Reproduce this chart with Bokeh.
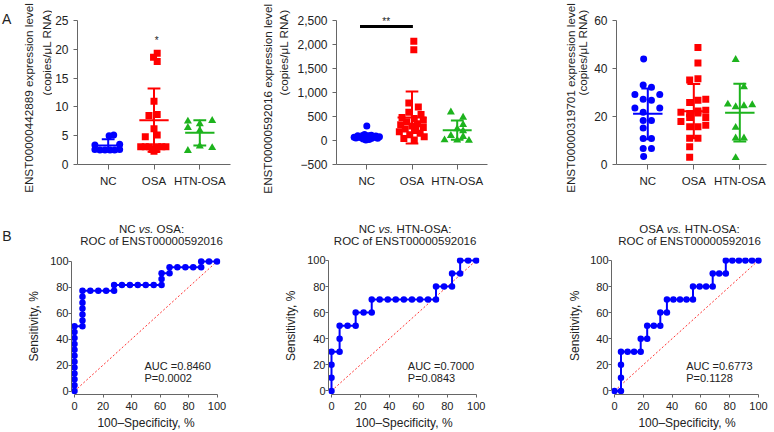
import math
import numpy as np
from bokeh.plotting import figure
from bokeh.layouts import row, column
from bokeh.models import FixedTicker, Label, Range1d
from bokeh.embed import file_html
from bokeh.resources import INLINE

# ---------------- data ----------------
groups = ["NC", "OSA", "HTN-OSA"]

# A1: ENST00000442889
a1_nc = [5.1, 5.0, 3.5, 3.4, 2.6, 2.5, 2.5, 2.5, 2.5, 2.6]
a1_nc_dx = [0.12, 0.02, 0.25, -0.29, -0.29, -0.18, -0.07, 0.04, 0.14, 0.25]
a1_osa = [19.3, 18.6, 17.9, 11.0, 8.7, 8.5, 6.2, 5.1, 4.8, 3.1, 3.1, 3.1, 3.1, 3.1, 3.1, 2.6, 2.6, 2.3]
a1_osa_dx = [0.07, -0.01, 0.07, 0.0, 0.07, -0.11, 0.0, 0.07, -0.19, -0.29, -0.19, -0.1, 0.08, 0.17, 0.26, -0.04, 0.05, 0.0]
a1_htn = [7.6, 7.5, 7.05, 6.4, 5.9, 3.2, 2.9, 2.4]
a1_htn_dx = [0.27, -0.26, 0.0, -0.26, 0.0, 0.0, 0.27, -0.26]
a1_mean = [3.3, 7.7, 5.5]
a1_sd = [1.1, 5.5, 2.2]
a1_ticks = [0, 5, 10, 15, 20, 25]
a1_tick_labels = ["0", "5", "10", "15", "20", "25"]
a1_star = [2.06, 21.6]

# A2: ENST00000592016
a2_nc = [300, 125, 110, 100, 95, 90, 85, 80, 70, 65, 60, 55, 50, 45, 40, 30, 20, 10]
a2_nc_dx = [0.0, -0.05, 0.1, -0.2, 0.2, -0.1, 0.05, 0.28, -0.28, 0.15, -0.15, 0.0, -0.24, 0.24, 0.1, -0.08, 0.05, -0.02]
a2_osa = [2070, 1890, 780, 700, 590, 540, 480, 460, 420, 390, 350, 330, 300, 270, 240, 210, 180, 150, 120, 80, 40, 10]
a2_osa_dx = [0.04, 0.04, -0.07, 0.14, -0.07, 0.2, -0.22, 0.05, 0.25, -0.12, 0.12, -0.25, 0.0, 0.25, -0.15, 0.08, -0.28, 0.18, -0.05, 0.27, -0.18, 0.05]
a2_htn = [590, 480, 330, 240, 200, 100, 80, 10, 5, 0]
a2_htn_dx = [-0.14, 0.13, 0.13, 0.0, 0.13, -0.14, 0.13, -0.28, 0.0, 0.26]
a2_mean = [80, 480, 215]
a2_sd = [70, 540, 200]
a2_ticks = [-500, 0, 500, 1000, 1500, 2000, 2500]
a2_tick_labels = ["\u2212500", "0", "500", "1,000", "1,500", "2,000", "2,500"]
a2_sig = [0.85, 2.02, 2375]          # ** bar: from group, to group, level
a2_sig_text = [1.43, 2480]

# A3: ENST00000319701
a3_nc = [44.0, 33.1, 32.2, 29.2, 29.2, 27.2, 26.8, 23.5, 23.5, 21.8, 18.3, 18.3, 15.2, 10.8, 10.8, 6.7, 6.7, 3.3]
a3_nc_dx = [-0.09, -0.1, 0.08, -0.28, 0.26, -0.1, 0.08, -0.28, 0.26, -0.1, -0.1, 0.08, -0.1, -0.1, 0.08, -0.1, 0.08, -0.09]
a3_osa = [48.8, 42.3, 35.7, 35.2, 27.2, 26.8, 25.8, 22.6, 21.8, 21.5, 21.2, 19.6, 19.6, 17.9, 16.4, 15.7, 15.7, 10.9, 10.9, 7.4, 3.0, 22.3]
a3_osa_dx = [0.09, 0.09, 0.09, -0.09, 0.26, 0.09, -0.09, 0.26, -0.28, 0.09, -0.09, 0.26, -0.09, -0.28, 0.26, -0.09, 0.09, -0.09, 0.09, -0.09, -0.09, 0.09]
a3_htn = [43.7, 32.3, 25.1, 24.0, 24.4, 24.8, 15.4, 11.0, 11.0, 2.8]
a3_htn_dx = [-0.09, 0.09, -0.26, -0.09, 0.09, 0.27, -0.09, -0.09, 0.09, -0.09]
a3_mean = [21.1, 22.2, 21.6]
a3_sd = [10.6, 11.3, 12.0]
a3_ticks = [0, 20, 40, 60]
a3_tick_labels = ["0", "20", "40", "60"]

# ROC curves (100-specificity %, sensitivity %)
b1_x = [0, 0, 0, 0, 0, 0, 0, 0, 0, 0, 0, 0, 5.6, 5.6, 5.6, 5.6, 5.6, 5.6, 5.6, 11.1, 16.7, 22.2, 27.8, 27.8,
        33.3, 38.9, 44.4, 50.0, 55.6, 61.1, 61.1, 61.1, 66.7, 66.7, 72.2, 77.8, 83.3, 88.9, 88.9, 94.4, 100]
b1_y = [0, 4.5, 9.1, 13.6, 18.2, 22.7, 27.3, 31.8, 36.4, 40.9, 45.5, 50.0, 50.0, 54.5, 59.1, 63.6, 68.2, 72.7, 77.3,
        77.3, 77.3, 77.3, 77.3, 81.8, 81.8, 81.8, 81.8, 81.8, 81.8, 81.8, 86.4, 90.9, 90.9, 95.5, 95.5, 95.5, 95.5,
        95.5, 100, 100, 100]
b2_x = [0, 0, 0, 0, 5.6, 5.6, 5.6, 11.1, 16.7, 16.7, 22.2, 27.8, 27.8, 33.3, 38.9, 44.4, 50.0, 55.6, 61.1, 66.7,
        72.2, 72.2, 77.8, 83.3, 83.3, 88.9, 88.9, 94.4, 100]
b2_y = [0, 10, 20, 30, 30, 40, 50, 50, 50, 60, 60, 60, 70, 70, 70, 70, 70, 70, 70, 70, 70, 80, 80, 80, 90, 90, 100,
        100, 100]
b3_x = [0, 4.5, 4.5, 4.5, 4.5, 9.1, 13.6, 18.2, 18.2, 22.7, 22.7, 27.3, 31.8, 31.8, 36.4, 36.4, 40.9, 45.5, 50.0,
        54.5, 54.5, 59.1, 63.6, 68.2, 68.2, 72.7, 77.3, 77.3, 81.8, 86.4, 90.9, 95.5, 100]
b3_y = [0, 0, 10, 20, 30, 30, 30, 30, 40, 40, 50, 50, 50, 60, 60, 70, 70, 70, 70, 70, 80, 80, 80, 80, 90, 90, 90, 100,
        100, 100, 100, 100, 100]
roc_ticks = [0, 20, 40, 60, 80, 100]
roc_titles = [("NC", "OSA:"), ("NC", "HTN-OSA:"), ("OSA", "HTN-OSA:")]
roc_auc = ["AUC =0.8460", "AUC =0.7000", "AUC =0.6773"]
roc_p = ["P=0.0002", "P=0.0843", "P=0.1128"]

# ---------------- style ----------------
FONT = "Liberation Sans"
TXT = "#222222"
AX = "#666666"
COLORS = ["#0000FF", "#FF0000", "#1DB31D"]
MARKERS = ["circle", "square", "triangle"]
MSIZE = [7, 7, 8]

# Liberation Sans advance widths (em) used to lay out the mixed-style titles
W = {'N': .722, 'C': .722, ' ': .278, 'v': .5, 's': .5, '.': .278, 'O': .778, 'S': .667, 'A': .667,
     ':': .278, 'H': .722, 'T': .611, '-': .333}


def tw(t, px=11.5):
    return sum(W[c] for c in t) * px


class Geo:
    def __init__(s, frame, xr, yr):
        s.fx0, s.fx1, s.fy0, s.fy1 = frame
        s.xr, s.yr = xr, yr

    def x(s, px):
        return s.xr[0] + (px - s.fx0) / (s.fx1 - s.fx0) * (s.xr[1] - s.xr[0])

    def y(s, py):
        return s.yr[0] + (s.fy1 - py) / (s.fy1 - s.fy0) * (s.yr[1] - s.yr[0])


def lab(p, x, y, t, size="11.5px", align="center", baseline="middle", angle=0.0, style="normal"):
    p.add_layout(Label(x=x, y=y, text=t, text_font=FONT, text_font_size=size, text_align=align,
                       text_baseline=baseline, angle=angle, text_font_style=style, text_color=TXT))


def text_fig(x0, x1, y0, y1):
    p = figure(width=x1 - x0, height=y1 - y0, x_range=Range1d(x0, x1), y_range=Range1d(y1, y0),
               min_border=0, toolbar_location=None, tools="", output_backend="svg",
               x_axis_type=None, y_axis_type=None, frame_align=False)
    p.outline_line_color = None
    p.background_fill_color = "white"
    p.border_fill_color = "white"
    return p


def base_fig(outer, frame, xr, yr):
    ox0, ox1, oy0, oy1 = outer
    fx0, fx1, fy0, fy1 = frame
    p = figure(width=ox1 - ox0, height=oy1 - oy0, x_range=Range1d(*xr), y_range=Range1d(*yr),
               min_border_left=fx0 - ox0, min_border_right=ox1 - fx1,
               min_border_top=fy0 - oy0, min_border_bottom=oy1 - fy1,
               toolbar_location=None, tools="", output_backend="svg", frame_align=False)
    p.outline_line_color = None
    p.grid.visible = False
    p.background_fill_color = "white"
    p.border_fill_color = "white"
    for ax in (p.xaxis[0], p.yaxis[0]):
        ax.axis_line_color = AX
        ax.major_tick_line_color = AX
        ax.minor_tick_line_color = None
        ax.major_tick_in = 0
        ax.major_label_text_font = FONT
        ax.major_label_text_color = TXT
        ax.axis_label_text_font = FONT
        ax.axis_label_text_color = TXT
        ax.axis_label_text_font_style = "normal"
    return p, Geo(frame, xr, yr)


def scatter_panel(outer, frame, xr, yr, ybounds, ticks, tick_labels, series, dxs, means, sds):
    p, g = base_fig(outer, frame, xr, yr)
    p.xaxis.ticker = FixedTicker(ticks=[1, 2, 3])
    p.xaxis.major_label_overrides = {i + 1: n for i, n in enumerate(groups)}
    p.xaxis.major_label_text_font_size = "11.5px"
    p.xaxis.major_tick_out = 5
    p.xaxis.major_label_standoff = 5
    p.yaxis.ticker = FixedTicker(ticks=ticks)
    p.yaxis.major_label_overrides = dict(zip(ticks, tick_labels))
    p.yaxis.major_label_text_font_size = "12px"
    p.yaxis.major_tick_out = 4
    p.yaxis.major_label_standoff = 5
    p.yaxis.bounds = ybounds
    for i, (vals, dx) in enumerate(zip(series, dxs)):
        xs = [i + 1 + d for d in dx]
        p.scatter(xs, vals, marker=MARKERS[i], size=MSIZE[i], color=COLORS[i], line_width=0)
    cats = np.array([1, 2, 3], dtype=float)
    m = np.array(means, dtype=float)
    s = np.array(sds, dtype=float)
    p.segment(cats, m - s, cats, m + s, color=COLORS, line_width=2)
    p.segment(cats - 0.14, m + s, cats + 0.14, m + s, color=COLORS, line_width=2)
    p.segment(cats - 0.14, m - s, cats + 0.14, m - s, color=COLORS, line_width=2)
    p.segment(cats - 0.32, m, cats + 0.32, m, color=COLORS, line_width=2)
    return p, g


# ---------------- top row (y 0..210) ----------------
TOP = (0, 210)
YT1 = "ENST00000442889 expression level"
YT2 = "ENST00000592016 expression level"
YT3 = "ENST00000319701 expression level"
UNIT = "(copies/\u03bcL RNA)"
TFS = "11.7px"

t1 = text_fig(0, 52, *TOP)
lab(t1, 1.5, 18.3, "A", size="14px", align="left", baseline="alphabetic")
lab(t1, 28.3, 97.5, YT1, size=TFS, angle=math.pi / 2)
lab(t1, 46.0, 52.0, UNIT, size=TFS, angle=math.pi / 2)

p1, g1 = scatter_panel((52, 240) + TOP, (74, 230, 20, 164), (0.33, 3.67), (0, 25), (0, 25), a1_ticks, a1_tick_labels,
                       [a1_nc, a1_osa, a1_htn], [a1_nc_dx, a1_osa_dx, a1_htn_dx], a1_mean, a1_sd)
lab(p1, a1_star[0], a1_star[1], "*", size="10px")

t2 = text_fig(240, 294, *TOP)
lab(t2, 266.7, 98.3, YT2, size=TFS, angle=math.pi / 2)
lab(t2, 283.0, 52.0, UNIT, size=TFS, angle=math.pi / 2)

yr2_top = 2500 + (20 - 12) * 3000 / 144.0
p2, g2 = scatter_panel((294, 497) + TOP, (333, 487, 12, 164), (0.33, 3.67), (-500, yr2_top), (-500, 2500),
                       a2_ticks, a2_tick_labels,
                       [a2_nc, a2_osa, a2_htn], [a2_nc_dx, a2_osa_dx, a2_htn_dx], a2_mean, a2_sd)
p2.segment([a2_sig[0]], [a2_sig[2]], [a2_sig[1]], [a2_sig[2]], color="black", line_width=3)
lab(p2, a2_sig_text[0], a2_sig_text[1], "**", size="10px")

t3 = text_fig(497, 591, *TOP)
lab(t3, 570.0, 97.5, YT3, size=TFS, angle=math.pi / 2)
lab(t3, 581.7, 52.0, UNIT, size=TFS, angle=math.pi / 2)

p3, g3 = scatter_panel((591, 774) + TOP, (614, 766, 20, 164), (0.32, 3.58), (0, 60), (0, 60), a3_ticks, a3_tick_labels,
                       [a3_nc, a3_osa, a3_htn], [a3_nc_dx, a3_osa_dx, a3_htn_dx], a3_mean, a3_sd)

top_row = row(t1, p1, t2, p2, t3, p3)

# ---------------- ROC titles strip (y 210..250) ----------------
strip = text_fig(0, 774, 210, 250)
lab(strip, 1.7, 235, "B", size="14px", align="left", baseline="alphabetic")
title_cx = [151.0, 404.6, 689.0]
for k, cx in enumerate(title_cx):
    a, b = roc_titles[k]
    total = tw(a + " vs. " + b)
    x0 = cx - total / 2
    lab(strip, x0, 228.3, a, align="left")
    lab(strip, x0 + tw(a + " "), 228.3, "vs.", align="left", style="italic")
    lab(strip, x0 + tw(a + " vs. "), 228.3, b, align="left")
    lab(strip, cx, 240.0, "ROC of ENST00000592016")

# ---------------- ROC row (y 250..432) ----------------
BOT = (250, 432)


def roc_panel(outer, frame, zero, hundred, xs, ys, k, auc_x):
    fx0, fx1, fy0, fy1 = frame
    sx = (hundred[0] - zero[0]) / 100.0
    sy = (zero[1] - hundred[1]) / 100.0
    xr = (-(zero[0] - fx0) / sx, 100 + (fx1 - hundred[0]) / sx)
    yr = (-(fy1 - zero[1]) / sy, 100 + (hundred[1] - fy0) / sy)
    p, g = base_fig(outer, frame, xr, yr)
    for ax in (p.xaxis[0], p.yaxis[0]):
        ax.ticker = FixedTicker(ticks=roc_ticks)
        ax.bounds = (0, 100)
        ax.major_tick_out = 3
        ax.major_label_text_font_size = "11px"
    p.xaxis.major_label_standoff = 4
    p.yaxis.major_label_standoff = 0
    p.xaxis.axis_label = "100\u2013Specificity, %"
    p.xaxis.axis_label_text_font_size = "12px"
    p.xaxis.axis_label_standoff = 3
    p.line([0, 100], [0, 100], color="#FF3333", line_width=1, line_dash="2 2")
    p.line(xs, ys, color="#0000FF", line_width=2)
    p.scatter(xs, ys, marker="circle", size=6.5, color="#0000FF", line_width=0)
    lab(p, g.x(auc_x), g.y(369), roc_auc[k], size="11px", align="left")
    lab(p, g.x(auc_x), g.y(380.7), roc_p[k], size="11px", align="left")
    return p, g


u1 = text_fig(0, 47, *BOT)
lab(u1, 33.0, 325.8, "Sensitivity, %", size="12px", angle=math.pi / 2)
q1, h1 = roc_panel((47, 282) + BOT, (71, 220, 257, 398), (74, 394.5), (216.5, 261), b1_x, b1_y, 0, 144)
u2 = text_fig(282, 304, *BOT)
lab(u2, 290.7, 325.3, "Sensitivity, %", size="12px", angle=math.pi / 2)
q2, h2 = roc_panel((304, 560) + BOT, (328, 479, 257, 398), (331, 394.3), (475.7, 260), b2_x, b2_y, 1, 407.3)
u3 = text_fig(560, 587, *BOT)
lab(u3, 574.0, 325.3, "Sensitivity, %", size="12px", angle=math.pi / 2)
q3, h3 = roc_panel((587, 774) + BOT, (611, 762, 257, 398), (614, 394.3), (758, 260), b3_x, b3_y, 2, 685.7)

bottom_row = row(u1, q1, u2, q2, u3, q3)

layout = column(top_row, strip, bottom_row)
open("out.html", "w").write(file_html(layout, INLINE))
